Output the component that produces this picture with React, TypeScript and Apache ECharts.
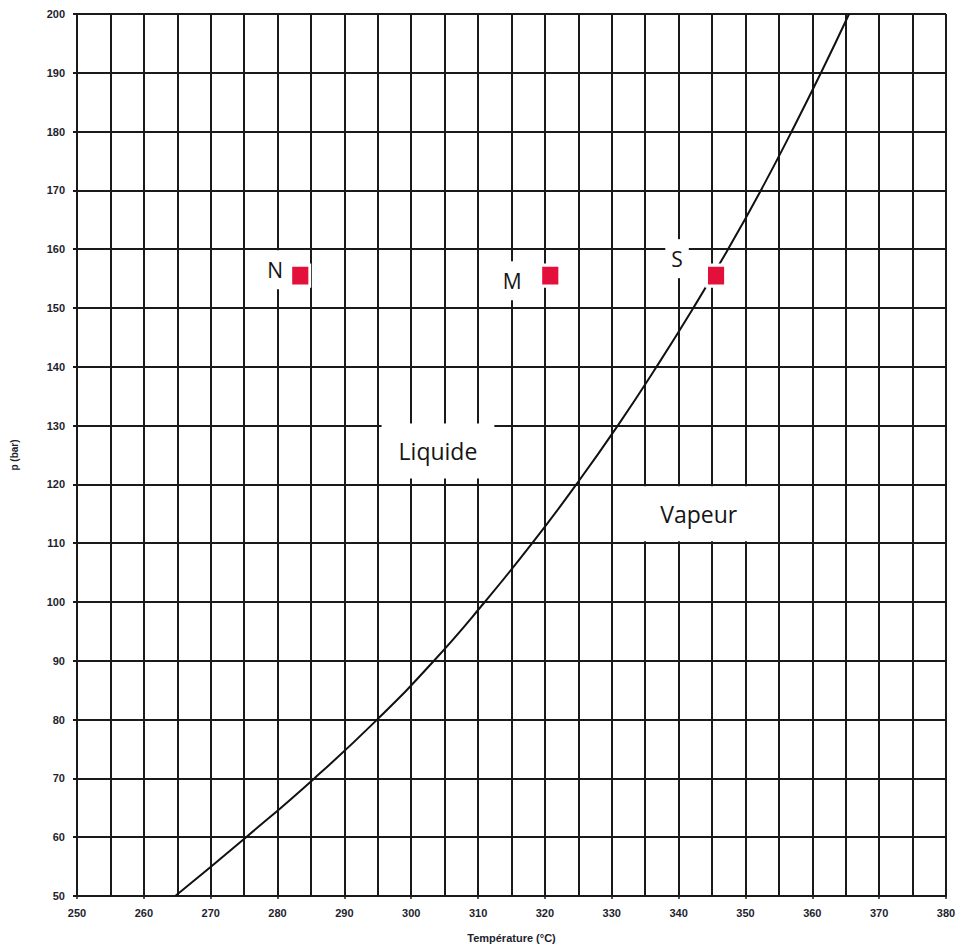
import React, { useEffect, useRef } from "react";
import * as echarts from "echarts";

// Saturation curve: temperature (°C) for each pressure (bar)
const curvePressures = [50, 60, 70, 80, 90, 100, 110, 120, 130, 140, 150, 160, 170, 180, 190, 200];
const curveTemperatures = [264.7, 275.3, 285.5, 294.9, 303.4, 311.0, 318.1, 324.7, 330.9, 336.7, 342.2, 347.4, 352.3, 356.9, 361.3, 365.5];

// Marked states
const pointNames = ["N", "M", "S"];
const pointTemperatures = [283.4, 320.8, 345.6];
const pointPressures = [155.5, 155.5, 155.5];

// Region labels
const regionNames = ["Liquide", "Vapeur"];
const regionTemperatures = [304, 343];
const regionPressures = [125.7, 115];

const xMin = 250;
const xMax = 380;
const yMin = 50;
const yMax = 200;

const labelOffsets: Record<string, number[]> = { N: [-25, -6], M: [-38, 5], S: [-39, -17] };

export default function App() {
  const ref = useRef<HTMLDivElement>(null);
  useEffect(() => {
    if (!ref.current) return;
    const chart = echarts.init(ref.current, undefined, { renderer: "svg" });
    const gridLine = { color: "#1a1a1a", width: 2 };
    const axisFont = {
      fontFamily: "Liberation Sans, Arial, sans-serif",
      fontWeight: "bold" as const,
      fontSize: 11,
      color: "#1e1e2e",
    };
    chart.setOption({
      animation: false,
      backgroundColor: "#ffffff",
      grid: { left: 77, right: 16, top: 14, bottom: 45, containLabel: false },
      xAxis: {
        type: "value",
        min: xMin,
        max: xMax,
        interval: 10,
        name: "Température (°C)",
        nameLocation: "middle",
        nameGap: 36,
        nameTextStyle: { ...axisFont, fontSize: 11 },
        axisLine: { show: true, lineStyle: { color: "#1a1a1a", width: 2 } },
        axisTick: { show: true, length: 3, lineStyle: { color: "#1a1a1a", width: 1.5 } },
        axisLabel: { ...axisFont, margin: 11 },
        splitLine: { show: true, lineStyle: gridLine },
        minorTick: { show: false, splitNumber: 2 },
        minorSplitLine: { show: true, lineStyle: gridLine },
      },
      yAxis: {
        type: "value",
        min: yMin,
        max: yMax,
        interval: 10,
        name: "p (bar)",
        nameLocation: "middle",
        nameGap: 58,
        nameTextStyle: { ...axisFont, fontSize: 10 },
        axisLine: { show: true, lineStyle: { color: "#1a1a1a", width: 2 } },
        axisTick: { show: true, length: 4, lineStyle: { color: "#1a1a1a", width: 2 } },
        axisLabel: { ...axisFont, margin: 12 },
        splitLine: { show: true, lineStyle: gridLine },
      },
      series: [
        {
          type: "line",
          data: curveTemperatures.map((t, i) => [t, curvePressures[i]]),
          smooth: 0.5,
          showSymbol: false,
          symbol: "none",
          lineStyle: { color: "#111111", width: 2 },
          z: 2,
        },
        {
          type: "scatter",
          data: regionNames.map((n, i) => ({ name: n, value: [regionTemperatures[i], regionPressures[i]] })),
          symbolSize: 0,
          itemStyle: { color: "#ffffff", opacity: 1 },
          z: 3,
          label: {
            show: true,
            position: "inside",
            formatter: (p: any) => p.name,
            fontFamily: "Open Sans, sans-serif",
            fontSize: 23,
            color: "#151515",
            backgroundColor: "#ffffff",
            padding: [16, 17],
            opacity: 1,
          },
        },
        {
          type: "scatter",
          data: pointNames.map((n, i) => ({
            name: n,
            value: [pointTemperatures[i], pointPressures[i]],
            label: { offset: labelOffsets[n] },
          })),
          symbol: "rect",
          symbolSize: [19, 21],
          itemStyle: { color: "#e4103c", borderColor: "#ffffff", borderWidth: 3, opacity: 1 },
          z: 4,
          label: {
            show: true,
            position: "inside",
            formatter: (p: any) => p.name,
            fontFamily: "Open Sans, sans-serif",
            fontSize: 21,
            color: "#151515",
            backgroundColor: "#ffffff",
            padding: [9, 6],
            opacity: 1,
          },
        },
      ],
    });
    return () => chart.dispose();
  }, []);
  return (
    <div
      ref={ref}
      style={{ position: "fixed", left: 0, top: 0, width: 962, height: 948, background: "#fff" }}
    />
  );
}
